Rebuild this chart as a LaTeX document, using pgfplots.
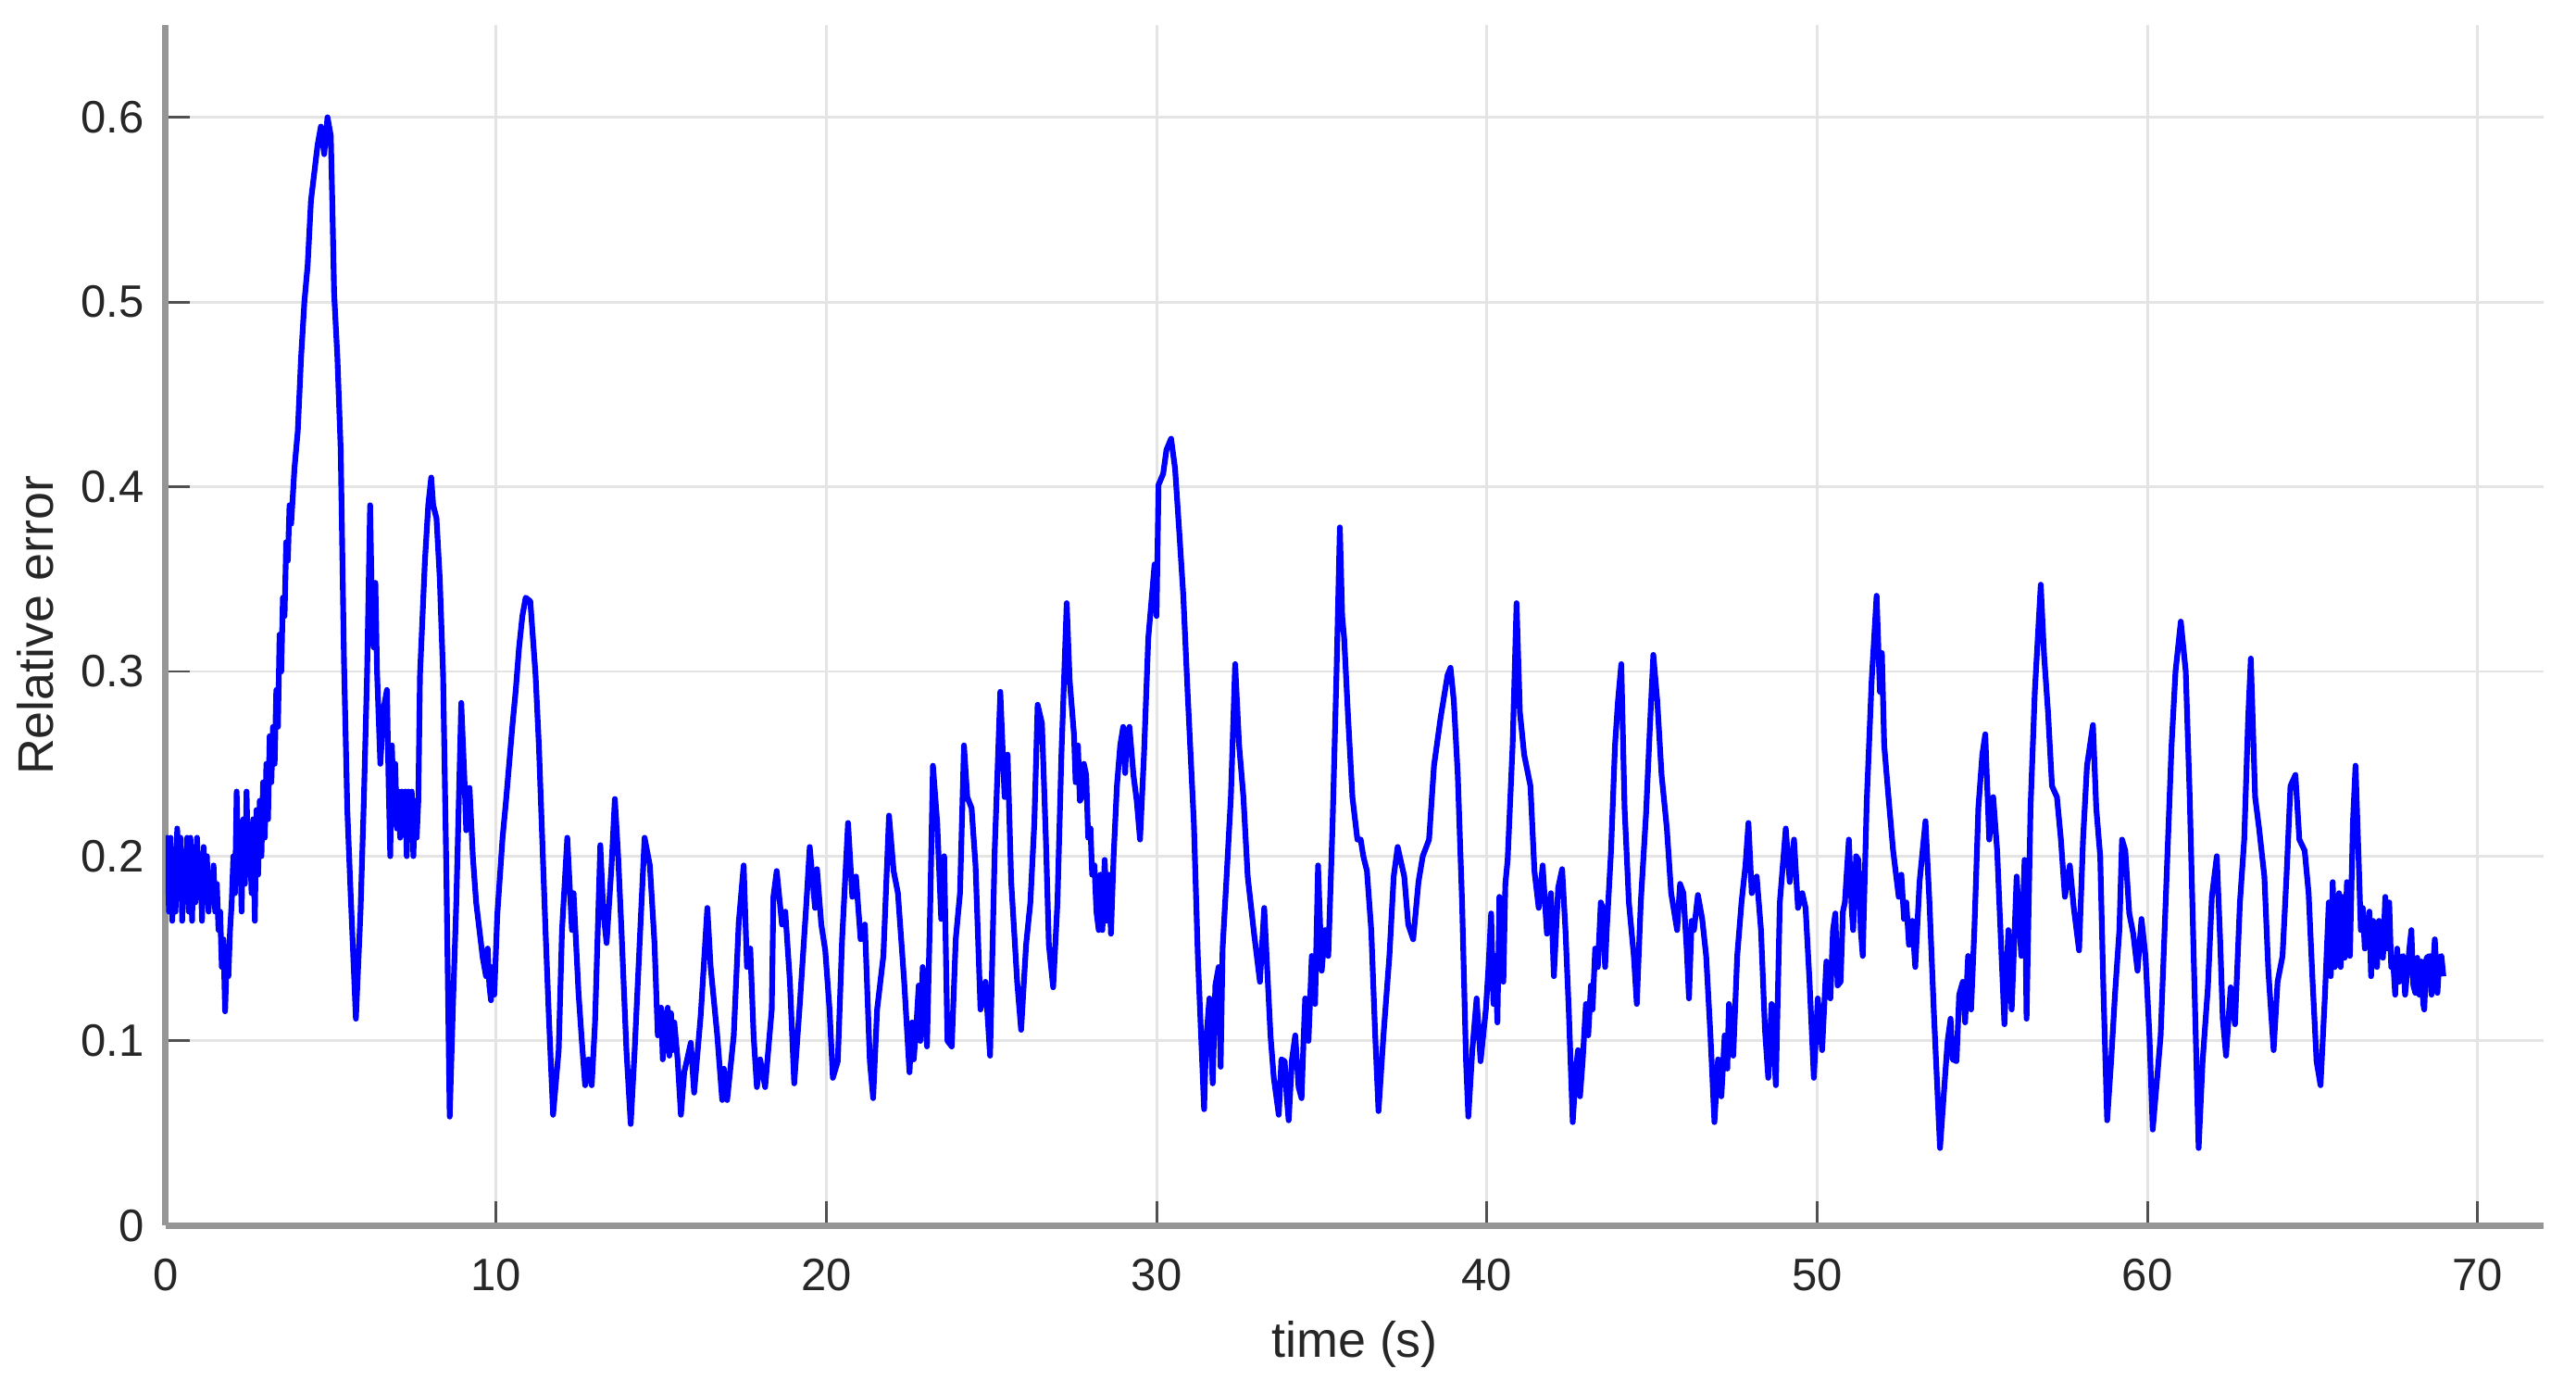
\documentclass[border=0pt]{standalone}
\usepackage{pgfplots}
\pgfplotsset{compat=1.18}
\usepackage{fontspec}
\setmainfont{Liberation Sans}
\definecolor{axgray}{RGB}{150,150,150}
\definecolor{txt}{RGB}{38,38,38}
\definecolor{gridc}{RGB}{228,228,228}
\definecolor{tickc}{RGB}{80,80,80}
\begin{document}
\begin{tikzpicture}
\begin{axis}[
  scale only axis, width=524pt, height=264.5pt,
  xmin=0, xmax=72, ymin=0, ymax=0.65,
  axis lines*=left,
  axis line style={draw=axgray, line width=1.4pt},
  x axis line style={-}, y axis line style={-},
  xtick={0,10,20,30,40,50,60,70},
  ytick={0,0.1,0.2,0.3,0.4,0.5,0.6},
  tick align=inside, major tick length=5.3pt,
  tick style={draw=tickc, line width=0.6pt},
  grid=major, major grid style={draw=gridc, line width=0.6pt},
  /pgf/number format/assume math mode=true,
  tick label style={font=\fontsize{10}{12}\selectfont, text=txt},
  yticklabel style={/pgf/number format/fixed, inner sep=0pt, anchor=east, xshift=-4.5pt},
  xticklabel style={inner sep=0pt, anchor=north, yshift=-7.1pt},
  xlabel={time (s)}, ylabel={Relative error},
  label style={font=\fontsize{11}{13}\selectfont, text=txt},
  xlabel style={at={(axis description cs:0.5,-0.0987)}, anchor=center},
  ylabel style={at={(axis description cs:-0.0546,0.5)}, anchor=center},
]
\addplot[blue, line width=1.25pt, line join=round] coordinates {
(0.0,0.19)(0.05,0.21)(0.1,0.17)(0.15,0.21)(0.2,0.165)(0.25,0.2)(0.3,0.17)(0.35,0.215)(0.4,0.18)(0.45,0.21)
(0.5,0.165)(0.55,0.2)(0.6,0.18)(0.65,0.21)(0.7,0.17)(0.75,0.21)(0.8,0.165)(0.85,0.205)(0.9,0.175)(0.95,0.21)
(1.0,0.18)(1.05,0.2)(1.1,0.165)(1.15,0.205)(1.2,0.175)(1.25,0.2)(1.3,0.17)(1.35,0.19)(1.4,0.175)(1.45,0.195)
(1.5,0.17)(1.55,0.185)(1.6,0.16)(1.65,0.17)(1.7,0.14)(1.75,0.155)(1.8,0.116)(1.85,0.145)(1.9,0.135)(1.95,0.16)
(2.0,0.175)(2.05,0.2)(2.1,0.18)(2.15,0.235)(2.2,0.19)(2.25,0.21)(2.3,0.17)(2.35,0.22)(2.4,0.185)(2.45,0.235)
(2.5,0.19)(2.55,0.215)(2.6,0.18)(2.65,0.22)(2.7,0.165)(2.75,0.225)(2.8,0.19)(2.85,0.23)(2.9,0.2)(2.95,0.24)
(3.0,0.21)(3.05,0.25)(3.1,0.22)(3.15,0.265)(3.2,0.24)(3.25,0.27)(3.3,0.25)(3.35,0.29)(3.4,0.27)(3.45,0.32)
(3.5,0.3)(3.55,0.34)(3.6,0.33)(3.65,0.37)(3.7,0.36)(3.75,0.39)(3.8,0.38)(3.9,0.41)(4.0,0.43)(4.1,0.47)
(4.2,0.5)(4.3,0.52)(4.4,0.555)(4.5,0.57)(4.6,0.585)(4.7,0.595)(4.8,0.58)(4.9,0.6)(5.0,0.59)(5.05,0.55)
(5.1,0.505)(5.2,0.47)(5.3,0.42)(5.4,0.305)(5.5,0.225)(5.6,0.18)(5.76,0.112)(5.9,0.17)(6.0,0.23)(6.1,0.3)
(6.19,0.39)(6.25,0.33)(6.3,0.313)(6.35,0.348)(6.4,0.3)(6.5,0.25)(6.6,0.28)(6.7,0.29)(6.75,0.24)(6.8,0.2)
(6.85,0.26)(6.9,0.23)(6.95,0.25)(7.0,0.215)(7.05,0.235)(7.1,0.21)(7.15,0.235)(7.2,0.22)(7.25,0.235)(7.3,0.2)
(7.35,0.235)(7.4,0.215)(7.45,0.235)(7.5,0.2)(7.55,0.23)(7.6,0.21)(7.65,0.23)(7.7,0.298)(7.85,0.36)(7.95,0.39)
(8.04,0.405)(8.1,0.39)(8.2,0.383)(8.3,0.35)(8.4,0.298)(8.5,0.19)(8.6,0.059)(8.7,0.12)(8.8,0.175)(8.95,0.283)
(9.05,0.24)(9.1,0.214)(9.2,0.237)(9.3,0.2)(9.4,0.175)(9.5,0.16)(9.6,0.145)(9.7,0.135)(9.75,0.15)(9.8,0.13)
(9.85,0.122)(9.9,0.14)(9.95,0.125)(10.04,0.168)(10.2,0.21)(10.3,0.229)(10.4,0.25)(10.5,0.271)(10.6,0.29)(10.7,0.313)
(10.8,0.33)(10.9,0.34)(11.04,0.338)(11.2,0.298)(11.3,0.26)(11.4,0.21)(11.5,0.16)(11.6,0.114)(11.73,0.06)(11.9,0.095)
(12.0,0.16)(12.16,0.21)(12.3,0.16)(12.35,0.18)(12.5,0.126)(12.6,0.1)(12.7,0.076)(12.8,0.09)(12.9,0.076)(13.0,0.11)
(13.16,0.206)(13.25,0.17)(13.35,0.153)(13.5,0.195)(13.6,0.231)(13.7,0.2)(13.8,0.16)(13.95,0.095)(14.08,0.055)(14.2,0.095)
(14.4,0.172)(14.5,0.21)(14.66,0.195)(14.8,0.153)(14.9,0.103)(15.0,0.118)(15.05,0.09)(15.1,0.115)(15.15,0.095)(15.2,0.118)
(15.25,0.092)(15.3,0.115)(15.35,0.095)(15.4,0.11)(15.5,0.09)(15.6,0.06)(15.7,0.083)(15.9,0.099)(16.0,0.072)(16.2,0.114)
(16.4,0.172)(16.5,0.14)(16.7,0.103)(16.85,0.068)(16.9,0.085)(16.95,0.07)(17.0,0.068)(17.2,0.103)(17.35,0.164)(17.5,0.195)
(17.6,0.14)(17.7,0.15)(17.8,0.103)(17.9,0.075)(18.0,0.09)(18.15,0.075)(18.35,0.117)(18.4,0.178)(18.5,0.192)(18.66,0.163)
(18.76,0.17)(18.9,0.132)(19.03,0.077)(19.2,0.12)(19.4,0.175)(19.5,0.205)(19.66,0.172)(19.72,0.193)(19.85,0.163)(19.97,0.149)
(20.1,0.117)(20.2,0.08)(20.35,0.089)(20.48,0.155)(20.66,0.218)(20.79,0.178)(20.9,0.189)(21.04,0.155)(21.17,0.163)(21.32,0.089)
(21.42,0.069)(21.54,0.117)(21.73,0.146)(21.9,0.222)(22.04,0.192)(22.17,0.18)(22.36,0.132)(22.52,0.083)(22.6,0.11)(22.65,0.09)
(22.73,0.109)(22.8,0.13)(22.85,0.1)(22.92,0.14)(23.05,0.097)(23.15,0.175)(23.23,0.249)(23.36,0.218)(23.48,0.166)(23.57,0.2)
(23.67,0.1)(23.8,0.097)(23.92,0.155)(24.05,0.18)(24.17,0.26)(24.27,0.232)(24.4,0.226)(24.52,0.195)(24.67,0.117)(24.82,0.132)
(24.96,0.092)(25.1,0.203)(25.27,0.289)(25.4,0.232)(25.49,0.255)(25.6,0.186)(25.78,0.132)(25.9,0.106)(26.05,0.152)(26.18,0.175)
(26.3,0.218)(26.4,0.282)(26.53,0.272)(26.65,0.209)(26.74,0.152)(26.87,0.129)(27.0,0.175)(27.12,0.255)(27.28,0.337)(27.37,0.295)
(27.5,0.266)(27.55,0.24)(27.62,0.26)(27.68,0.23)(27.74,0.232)(27.8,0.25)(27.87,0.244)(27.93,0.21)(28.0,0.215)(28.05,0.19)
(28.12,0.195)(28.18,0.17)(28.25,0.16)(28.3,0.19)(28.36,0.16)(28.43,0.198)(28.5,0.165)(28.56,0.19)(28.62,0.158)(28.7,0.2)
(28.8,0.238)(28.9,0.26)(28.99,0.27)(29.05,0.245)(29.1,0.265)(29.18,0.27)(29.3,0.244)(29.4,0.23)(29.5,0.209)(29.62,0.255)
(29.75,0.318)(29.94,0.358)(30.0,0.33)(30.06,0.401)(30.2,0.407)(30.3,0.42)(30.44,0.426)(30.56,0.41)(30.69,0.375)(30.81,0.341)
(30.94,0.289)(31.13,0.218)(31.25,0.146)(31.44,0.063)(31.5,0.1)(31.6,0.123)(31.7,0.077)(31.78,0.13)(31.88,0.14)(31.94,0.086)
(32.0,0.15)(32.13,0.192)(32.25,0.232)(32.38,0.304)(32.5,0.26)(32.63,0.232)(32.76,0.189)(32.94,0.16)(33.13,0.132)(33.26,0.172)
(33.45,0.103)(33.55,0.08)(33.7,0.06)(33.78,0.09)(33.88,0.089)(33.94,0.07)(34.0,0.057)(34.1,0.09)(34.2,0.103)(34.3,0.075)
(34.39,0.069)(34.45,0.1)(34.5,0.123)(34.6,0.1)(34.7,0.146)(34.8,0.12)(34.89,0.195)(35.0,0.138)(35.1,0.16)(35.2,0.146)
(35.33,0.218)(35.45,0.3)(35.55,0.378)(35.62,0.33)(35.68,0.318)(35.8,0.275)(35.93,0.232)(36.08,0.209)(36.18,0.209)(36.26,0.2)
(36.37,0.192)(36.5,0.16)(36.62,0.103)(36.72,0.062)(36.87,0.103)(37.05,0.146)(37.18,0.189)(37.3,0.205)(37.5,0.189)(37.62,0.163)
(37.77,0.155)(37.93,0.186)(38.06,0.2)(38.25,0.209)(38.4,0.249)(38.6,0.275)(38.81,0.298)(38.9,0.302)(39.0,0.284)(39.12,0.244)
(39.25,0.175)(39.37,0.089)(39.44,0.059)(39.56,0.095)(39.69,0.123)(39.81,0.089)(39.97,0.117)(40.05,0.14)(40.13,0.169)(40.2,0.12)
(40.25,0.146)(40.32,0.11)(40.38,0.178)(40.45,0.14)(40.5,0.132)(40.56,0.185)(40.63,0.198)(40.78,0.26)(40.9,0.337)(41.0,0.278)
(41.13,0.255)(41.32,0.238)(41.44,0.192)(41.57,0.172)(41.69,0.195)(41.82,0.158)(41.94,0.18)(42.03,0.135)(42.16,0.183)(42.28,0.193)
(42.38,0.16)(42.48,0.117)(42.6,0.056)(42.7,0.085)(42.76,0.095)(42.82,0.07)(42.9,0.089)(43.0,0.12)(43.07,0.103)(43.15,0.13)
(43.2,0.117)(43.28,0.15)(43.36,0.14)(43.45,0.175)(43.51,0.172)(43.58,0.14)(43.63,0.16)(43.76,0.203)(43.88,0.26)(43.97,0.284)
(44.07,0.304)(44.17,0.226)(44.3,0.175)(44.45,0.146)(44.54,0.12)(44.66,0.175)(44.82,0.223)(44.95,0.275)(45.04,0.309)(45.16,0.284)
(45.29,0.244)(45.45,0.215)(45.58,0.18)(45.76,0.16)(45.85,0.185)(45.95,0.18)(46.05,0.15)(46.12,0.123)(46.2,0.165)(46.27,0.16)
(46.39,0.179)(46.52,0.166)(46.64,0.146)(46.77,0.103)(46.89,0.056)(47.0,0.09)(47.1,0.07)(47.2,0.103)(47.28,0.085)(47.33,0.12)
(47.46,0.092)(47.58,0.146)(47.71,0.175)(47.83,0.195)(47.92,0.218)(48.02,0.18)(48.17,0.189)(48.3,0.16)(48.42,0.106)(48.52,0.08)
(48.62,0.12)(48.75,0.076)(48.87,0.175)(49.05,0.215)(49.17,0.186)(49.3,0.209)(49.42,0.172)(49.55,0.18)(49.65,0.172)(49.77,0.132)
(49.9,0.08)(50.02,0.123)(50.15,0.095)(50.28,0.143)(50.4,0.123)(50.48,0.16)(50.55,0.169)(50.62,0.13)(50.71,0.132)(50.78,0.17)
(50.84,0.175)(50.96,0.209)(51.05,0.17)(51.09,0.16)(51.18,0.2)(51.25,0.198)(51.32,0.16)(51.38,0.146)(51.5,0.229)(51.65,0.295)
(51.8,0.341)(51.9,0.289)(51.96,0.31)(52.03,0.26)(52.16,0.232)(52.3,0.203)(52.47,0.178)(52.55,0.19)(52.63,0.166)(52.7,0.175)
(52.78,0.152)(52.88,0.165)(52.97,0.14)(53.1,0.186)(53.28,0.219)(53.4,0.175)(53.53,0.117)(53.72,0.042)(53.85,0.075)(53.95,0.1)
(54.04,0.112)(54.1,0.09)(54.22,0.089)(54.3,0.125)(54.41,0.132)(54.48,0.11)(54.57,0.146)(54.66,0.117)(54.76,0.16)(54.88,0.226)
(55.0,0.255)(55.09,0.266)(55.21,0.209)(55.33,0.232)(55.45,0.203)(55.55,0.16)(55.67,0.109)(55.79,0.16)(55.89,0.117)(56.04,0.189)
(56.18,0.146)(56.28,0.198)(56.34,0.112)(56.46,0.226)(56.59,0.289)(56.77,0.347)(56.87,0.309)(56.99,0.278)(57.11,0.238)(57.26,0.232)
(57.38,0.209)(57.5,0.178)(57.65,0.195)(57.77,0.172)(57.93,0.149)(58.05,0.209)(58.17,0.249)(58.35,0.271)(58.45,0.226)(58.57,0.2)
(58.66,0.132)(58.78,0.057)(58.9,0.089)(59.02,0.126)(59.15,0.16)(59.23,0.209)(59.33,0.203)(59.45,0.169)(59.57,0.158)(59.7,0.138)
(59.82,0.166)(59.94,0.146)(60.06,0.103)(60.16,0.052)(60.28,0.077)(60.4,0.103)(60.49,0.146)(60.61,0.203)(60.73,0.26)(60.85,0.3)
(61.01,0.327)(61.16,0.3)(61.28,0.232)(61.4,0.146)(61.55,0.042)(61.67,0.089)(61.83,0.129)(61.95,0.178)(62.1,0.2)(62.2,0.155)
(62.28,0.112)(62.38,0.092)(62.52,0.129)(62.65,0.109)(62.8,0.175)(62.93,0.209)(63.05,0.275)(63.13,0.307)(63.26,0.232)(63.38,0.215)
(63.54,0.189)(63.66,0.138)(63.82,0.095)(63.94,0.132)(64.09,0.146)(64.21,0.189)(64.33,0.238)(64.48,0.244)(64.6,0.209)(64.76,0.203)
(64.88,0.18)(65.0,0.132)(65.12,0.089)(65.24,0.076)(65.37,0.123)(65.49,0.175)(65.55,0.135)(65.61,0.186)(65.67,0.14)(65.73,0.143)
(65.8,0.18)(65.85,0.14)(65.91,0.178)(65.97,0.145)(66.04,0.186)(66.13,0.146)(66.22,0.218)(66.3,0.249)(66.4,0.195)(66.46,0.16)
(66.52,0.172)(66.58,0.15)(66.65,0.155)(66.72,0.17)(66.77,0.135)(66.83,0.165)(66.89,0.163)(66.95,0.14)(67.01,0.165)(67.07,0.163)
(67.13,0.145)(67.2,0.178)(67.26,0.15)(67.32,0.175)(67.38,0.14)(67.44,0.143)(67.5,0.125)(67.56,0.15)(67.62,0.132)(67.68,0.145)
(67.74,0.146)(67.8,0.125)(67.87,0.138)(67.93,0.15)(67.99,0.16)(68.05,0.13)(68.11,0.126)(68.17,0.145)(68.23,0.125)(68.29,0.143)
(68.35,0.12)(68.38,0.117)(68.45,0.145)(68.54,0.146)(68.6,0.125)(68.7,0.155)(68.78,0.126)(68.84,0.145)(68.9,0.146)(68.96,0.135)
};
\end{axis}
\pgfresetboundingbox
\path[use as bounding box] ([shift={(-36.5pt,-36.5pt)}]current axis.south west) rectangle ([shift={(7.1pt,5.5pt)}]current axis.north east);
\end{tikzpicture}
\end{document}
